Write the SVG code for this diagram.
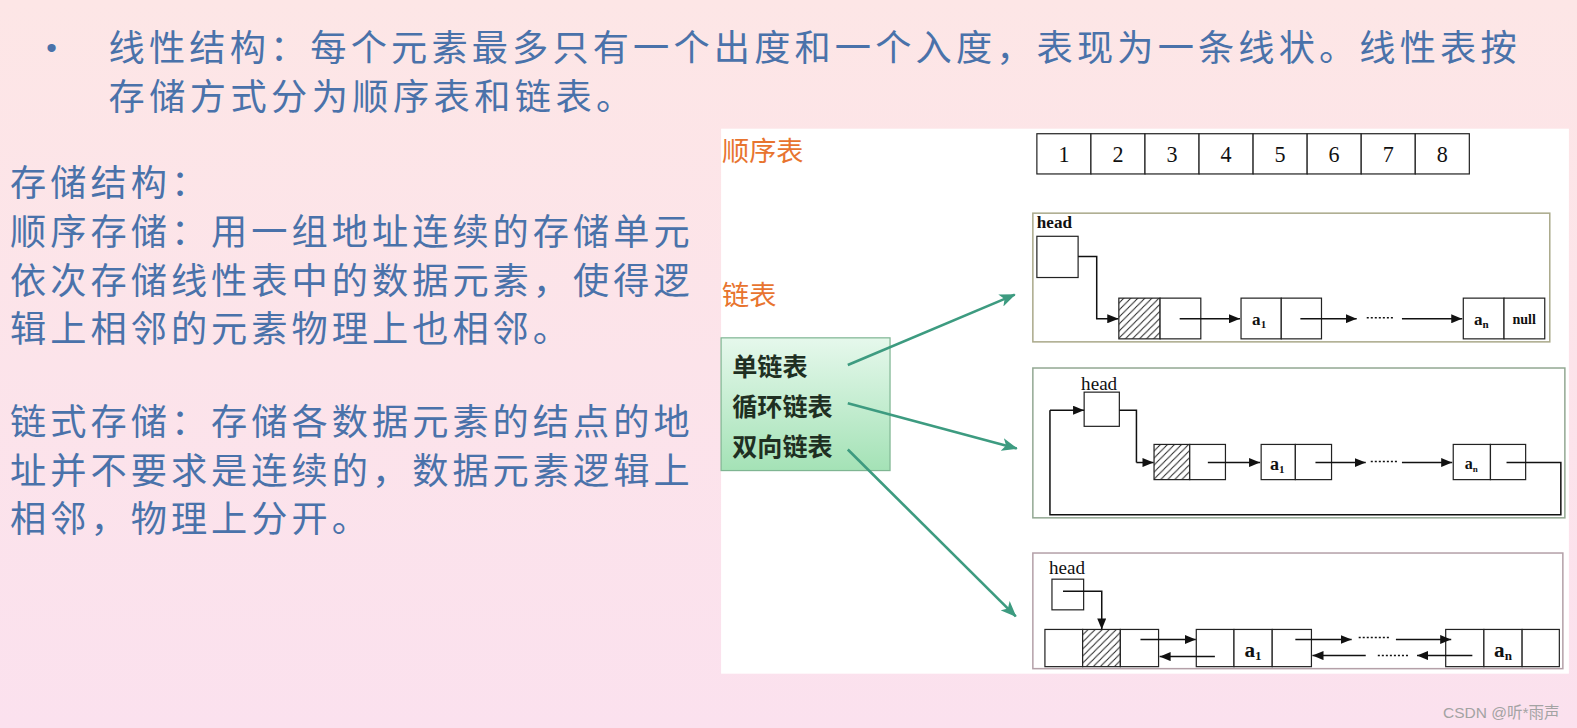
<svg xmlns="http://www.w3.org/2000/svg" width="1577" height="728" viewBox="0 0 1577 728">
<style>
.cjk{font-family:"Noto Sans CJK SC","Noto Sans",sans-serif;fill:#4a72aa}
.top{font-size:36px}
.body{font-size:36px;letter-spacing:4px}
.lbl{font-family:"Noto Sans CJK SC",sans-serif;font-size:27px;fill:#e8742f}
.grn{font-family:"Noto Sans CJK SC",sans-serif;font-size:25px;font-weight:bold;fill:#1f2f22}
.num{font-family:"Liberation Serif",serif;font-size:22px;fill:#111;text-anchor:middle}
.hd{font-family:"Liberation Serif",serif;font-size:17px;font-weight:bold;fill:#111}
.hdn{font-family:"Liberation Serif",serif;font-size:19px;fill:#111}
.el{font-family:"Liberation Serif",serif;font-size:17px;font-weight:bold;fill:#111;text-anchor:middle}
.cell{fill:#fff;stroke:#222;stroke-width:1.2}
.hat{fill:url(#hatch);stroke:#222;stroke-width:1.2}
.ln{fill:none;stroke:#111;stroke-width:1.5}
.lnA{fill:none;stroke:#111;stroke-width:1.5;marker-end:url(#ah)}
.dots{fill:none;stroke:#111;stroke-width:1.5;stroke-dasharray:2 2}
.garr{fill:none;stroke:#3d9b80;stroke-width:2.6;marker-end:url(#gah)}
</style>
<defs>
<linearGradient id="bg" x1="0" y1="0" x2="0" y2="1">
<stop offset="0" stop-color="#fde6e6"/>
<stop offset="1" stop-color="#fbe1ee"/>
</linearGradient>
<linearGradient id="gbox" x1="0" y1="0" x2="0" y2="1">
<stop offset="0" stop-color="#e6f8ec"/>
<stop offset="1" stop-color="#a4e2b6"/>
</linearGradient>
<pattern id="hatch" patternUnits="userSpaceOnUse" width="7" height="7">
<rect width="7" height="7" fill="#fff"/>
<path d="M0,7 L7,0 M-1,1 L1,-1 M6,8 L8,6" stroke="#222" stroke-width="1"/>
</pattern>
<marker id="ah" markerUnits="userSpaceOnUse" markerWidth="11" markerHeight="9" refX="11" refY="4.5" orient="auto">
<path d="M0,0 L11,4.5 L0,9 z" fill="#111"/>
</marker>
<marker id="gah" markerUnits="userSpaceOnUse" markerWidth="16" markerHeight="13" refX="15" refY="6.5" orient="auto">
<path d="M0,0 L16,6.5 L0,13 L4,6.5 z" fill="#3d9b80"/>
</marker>
</defs>
<rect width="1577" height="728" fill="url(#bg)"/>
<g transform="scale(1.0057,1.0055)">
<g id="intro">
<text class="cjk" x="46" y="58" style="font-size:30px;font-family:'Liberation Sans',sans-serif">•</text>
<text class="cjk top" x="108" y="61" textLength="1400" lengthAdjust="spacing">线性结构：每个元素最多只有一个出度和一个入度，表现为一条线状。线性表按</text>
<text class="cjk top" x="108" y="109" style="letter-spacing:4.4px">存储方式分为顺序表和链表。</text>
</g>
<g id="storage-text">
<text class="cjk body" x="10" y="195">存储结构：</text>
<text class="cjk body" x="10" y="244">顺序存储：用一组地址连续的存储单元</text>
<text class="cjk body" x="10" y="292">依次存储线性表中的数据元素，使得逻</text>
<text class="cjk body" x="10" y="340">辑上相邻的元素物理上也相邻。</text>
<text class="cjk body" x="10" y="433">链式存储：存储各数据元素的结点的地</text>
<text class="cjk body" x="10" y="481">址并不要求是连续的，数据元素逻辑上</text>
<text class="cjk body" x="10" y="529">相邻，物理上分开。</text>
</g>
<rect id="panel" x="717" y="128" width="843" height="542" fill="#fff"/>
<g id="seq-label"><text class="lbl" x="718" y="160">顺序表</text></g>
<g id="link-label"><text class="lbl" x="718" y="303">链表</text></g>
<g id="array">
<rect class="cell" x="1031" y="133" width="53.75" height="40"/>
<rect class="cell" x="1084.75" y="133" width="53.75" height="40"/>
<rect class="cell" x="1138.5" y="133" width="53.75" height="40"/>
<rect class="cell" x="1192.25" y="133" width="53.75" height="40"/>
<rect class="cell" x="1246" y="133" width="53.75" height="40"/>
<rect class="cell" x="1299.75" y="133" width="53.75" height="40"/>
<rect class="cell" x="1353.5" y="133" width="53.75" height="40"/>
<rect class="cell" x="1407.25" y="133" width="53.75" height="40"/>
<text class="num" x="1057.9" y="161">1</text>
<text class="num" x="1111.6" y="161">2</text>
<text class="num" x="1165.4" y="161">3</text>
<text class="num" x="1219.1" y="161">4</text>
<text class="num" x="1272.9" y="161">5</text>
<text class="num" x="1326.6" y="161">6</text>
<text class="num" x="1380.4" y="161">7</text>
<text class="num" x="1434.1" y="161">8</text>
</g>
<g id="type-box">
<rect x="717" y="336" width="168" height="132" fill="url(#gbox)" stroke="#7fb592" stroke-width="1.2"/>
<text class="grn" x="728" y="374">单链表</text>
<text class="grn" x="728" y="414">循环链表</text>
<text class="grn" x="728" y="454">双向链表</text>
</g>
<g id="single-list">
<rect x="1027" y="212" width="514" height="128" fill="#fff" stroke="#aaa98a" stroke-width="1.5"/>
<text class="hd" x="1031" y="227">head</text>
<rect class="cell" x="1031" y="235" width="41" height="41"/>
<rect class="hat" x="1112.5" y="296.5" width="41" height="40.5"/>
<rect class="cell" x="1153.5" y="296.5" width="40.5" height="40.5"/>
<rect class="cell" x="1234" y="296.5" width="40" height="40.5"/>
<rect class="cell" x="1274" y="296.5" width="40" height="40.5"/>
<text class="el" x="1252" y="323">a<tspan font-size="11" dy="3">1</tspan></text>
<rect class="cell" x="1455" y="296.5" width="40.5" height="40.5"/>
<rect class="cell" x="1495.5" y="296.5" width="40.5" height="40.5"/>
<text class="el" x="1473" y="323">a<tspan font-size="11" dy="3">n</tspan></text>
<text class="el" x="1515.5" y="322" style="font-size:14px">null</text>
</g>
<g id="circular-list">
<rect x="1027" y="366" width="529" height="149" fill="#fff" stroke="#93a893" stroke-width="1.5"/>
<text class="hdn" x="1075" y="388">head</text>
<rect class="cell" x="1078" y="390" width="35" height="34"/>
<rect class="hat" x="1147.5" y="442" width="35.5" height="35"/>
<rect class="cell" x="1183" y="442" width="35.5" height="35"/>
<rect class="cell" x="1254" y="442" width="34" height="35"/>
<rect class="cell" x="1288" y="442" width="36" height="35"/>
<text class="el" x="1270" y="467" style="font-size:18px">a<tspan font-size="11" dy="3">1</tspan></text>
<rect class="cell" x="1445" y="442" width="37" height="35"/>
<rect class="cell" x="1482" y="442" width="35" height="35"/>
<text class="el" x="1463" y="466" style="font-size:16px">a<tspan font-size="9" dy="3">n</tspan></text>
</g>
<g id="double-list">
<rect x="1027" y="550" width="527" height="115" fill="#fff" stroke="#b4a0a8" stroke-width="1.5"/>
<text class="hdn" x="1043" y="571">head</text>
<rect class="cell" x="1046" y="576" width="31.5" height="30.5"/>
<rect class="cell" x="1039" y="626" width="37.5" height="37"/>
<rect class="hat" x="1076.5" y="626" width="37.5" height="37"/>
<rect class="cell" x="1114" y="626" width="38" height="37"/>
<rect class="cell" x="1189.5" y="626" width="37.5" height="37"/>
<rect class="cell" x="1227" y="626" width="38" height="37"/>
<rect class="cell" x="1265" y="626" width="39" height="37"/>
<text class="el" x="1246" y="653" style="font-size:21px">a<tspan font-size="13" dy="3">1</tspan></text>
<rect class="cell" x="1437.5" y="626" width="38" height="37"/>
<rect class="cell" x="1475.5" y="626" width="38" height="37"/>
<rect class="cell" x="1513.5" y="626" width="37" height="37"/>
<text class="el" x="1494.5" y="653" style="font-size:21px">a<tspan font-size="13" dy="3">n</tspan></text>
</g>
<g id="connectors">
<path class="garr" d="M843,363 L1009,293"/>
<path class="garr" d="M843,401 L1011,446"/>
<path class="garr" d="M843,447 L1010,613"/>
<path class="lnA" d="M1072,255 H1090.5 V317 H1112"/>
<path class="lnA" d="M1173,317 H1233"/>
<path class="lnA" d="M1293,317 H1349"/>
<path class="dots" d="M1359,316 H1386"/>
<path class="lnA" d="M1394,317 H1454"/>
<path class="ln" d="M1113,408 H1130 V460"/>
<path class="lnA" d="M1130,460 H1147"/>
<path class="lnA" d="M1201,460 H1253"/>
<path class="lnA" d="M1308,460 H1358"/>
<path class="dots" d="M1363,459 H1391"/>
<path class="lnA" d="M1394,460 H1444"/>
<path class="ln" d="M1498,460 H1552 V512 H1044 V408"/>
<path class="lnA" d="M1044,408 H1078"/>
<path class="lnA" d="M1057,588 H1095.5 V626"/>
<path class="lnA" d="M1134,636 H1189"/>
<path class="lnA" d="M1208,653 H1153"/>
<path class="lnA" d="M1288,636 H1344"/>
<path class="dots" d="M1351,634 H1383"/>
<path class="lnA" d="M1388,636 H1443"/>
<path class="lnA" d="M1464,652 H1409"/>
<path class="dots" d="M1370,652 H1402"/>
<path class="lnA" d="M1358,652 H1305"/>
</g>
</g>
<g id="watermark"><text x="1443" y="718" style="font-family:'Liberation Sans','Noto Sans CJK SC',sans-serif;font-size:15.5px;fill:#a3a3a3">CSDN @听*雨声</text></g>
</svg>
